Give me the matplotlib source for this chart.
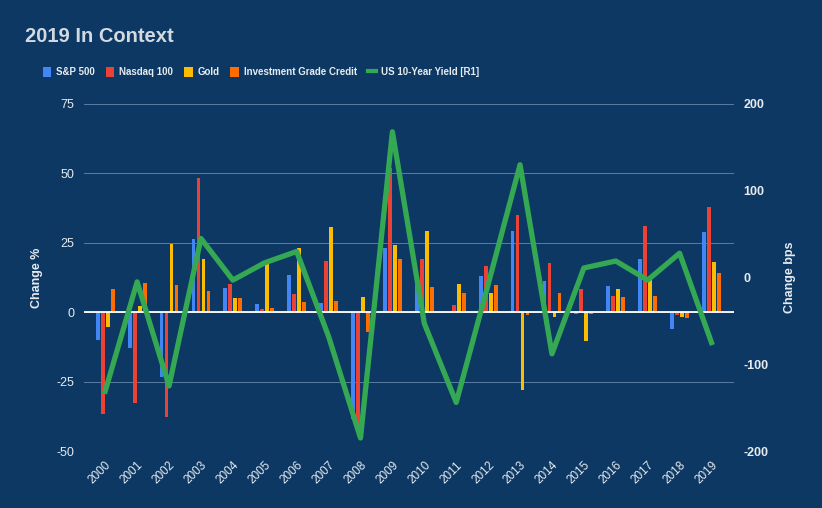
import numpy as np
from matplotlib import pyplot as plt
from matplotlib.patches import Patch
from matplotlib.lines import Line2D

years = [str(y) for y in range(2000, 2020)]
sp500 = [-10.1, -13.0, -23.3, 26.2, 8.8, 3.0, 13.3, 3.3, -38.3, 23.2, 12.3, 0.0, 13.0, 29.2, 11.1, -0.7, 9.3, 19.3, -6.1, 28.8]
nasdaq = [-36.8, -32.8, -37.6, 48.5, 10.0, 1.2, 6.5, 18.5, -41.0, 52.0, 19.0, 2.5, 16.6, 35.0, 17.8, 8.2, 5.8, 31.2, -1.1, 37.8]
gold = [-5.3, 2.2, 24.5, 19.2, 5.2, 17.5, 23.3, 30.7, 5.5, 24.3, 29.3, 10.0, 7.0, -28.0, -1.6, -10.5, 8.2, 12.5, -1.6, 18.0]
credit = [8.5, 10.4, 9.8, 7.8, 5.0, 1.4, 3.8, 4.2, -7.0, 19.3, 9.1, 7.0, 9.8, -1.0, 7.0, -0.5, 5.6, 6.0, -2.2, 14.0]
yield10 = [-131, -5, -125, 45, -3, 17, 30, -68, -185, 168, -53, -144, -8, 130, -88, 11, 19, -3, 28, -75]

series_names = ["S&P 500", "Nasdaq 100", "Gold", "Investment Grade Credit"]
colors = ["#4285F4", "#EA4335", "#FBBC04", "#FF6D01"]
green = "#34A853"
bg = "#0c3863"
txt = "#e6ebf0"

plt.rcParams['font.family'] = ['Liberation Sans', 'DejaVu Sans']
plt.rcParams['axes.unicode_minus'] = False

fig = plt.figure(figsize=(8.22, 5.08), dpi=100, facecolor=bg)
ax = fig.add_axes([84 / 822, 1 - 451 / 508, 650 / 822, 347 / 508])
ax.set_facecolor(bg)

x = np.arange(len(years))
offsets = [-0.235, -0.078, 0.078, 0.235]
for vals, off, c in zip([sp500, nasdaq, gold, credit], offsets, colors):
    ax.bar(x + off, vals, width=0.12, color=c, zorder=2)

ax.set_ylim(-50, 75)
ax.set_yticks([-50, -25, 0, 25, 50, 75])
ax.set_xlim(-0.665, 19.705)
ax.grid(axis='y', color='#5a7da3', linewidth=0.7, zorder=0)
ax.axhline(0, color='white', linewidth=1.3, zorder=3)
ax.set_xticks(x)
ax.set_xticklabels(years, rotation=45, ha='right', rotation_mode='anchor', fontsize=8.5, color=txt)
ax.tick_params(axis='x', length=0, pad=6)
ax.tick_params(axis='y', length=0, pad=7, labelsize=9, labelcolor=txt)
for s in ax.spines.values():
    s.set_visible(False)
ax.set_ylabel("Change %", color=txt, fontsize=9, fontweight='bold', labelpad=10)

ax2 = ax.twinx()
ax2.plot(x, yield10, color=green, linewidth=3.8, zorder=5)
ax2.set_ylim(-200, 200)
ax2.set_yticks([-200, -100, 0, 100, 200])
ax2.tick_params(axis='y', length=0, pad=7, labelsize=9, labelcolor=txt)
for lbl in ax2.get_yticklabels():
    lbl.set_fontweight('bold')
for s in ax2.spines.values():
    s.set_visible(False)
ax2.set_ylabel("Change bps", color=txt, fontsize=9, fontweight='bold', rotation=90, labelpad=11)

fig.text(25 / 822, 1 - 37 / 508, "2019 In Context", color="#d2d9e1", fontsize=14.5,
         fontweight='bold', va='center', ha='left')

handles = [Patch(facecolor=c, edgecolor='none') for c in colors]
handles.append(Line2D([0], [0], color=green, linewidth=3))
fig.legend(handles, series_names + ["US 10-Year Yield [R1]"], loc='center', ncol=5,
           bbox_to_anchor=(261 / 822, 1 - 72 / 508), frameon=False,
           prop={'weight': 'bold', 'size': 7}, labelcolor=txt,
           handlelength=0.9, handleheight=1.3, handletextpad=0.5, columnspacing=1.1)

fig.savefig("out.png", facecolor=bg)
